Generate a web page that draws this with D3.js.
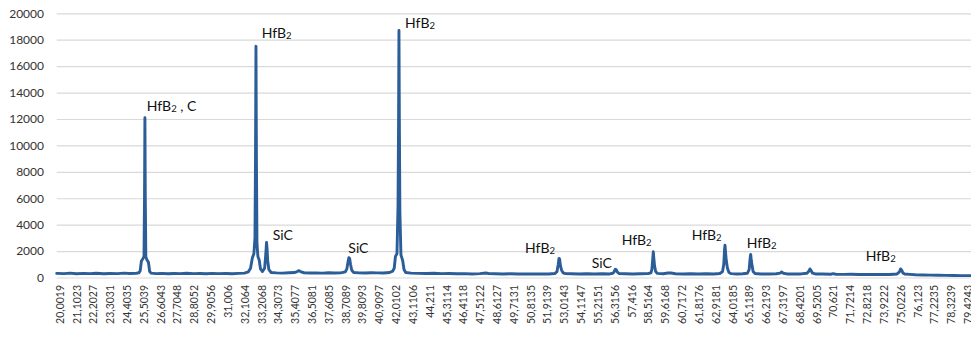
<!DOCTYPE html>
<html>
<head>
<meta charset="utf-8">
<script src="https://cdn.jsdelivr.net/npm/d3@7/dist/d3.min.js"></script>
<style>
  html, body { margin: 0; padding: 0; background: #ffffff; }
  svg { display: block; }
</style>
</head>
<body>
<svg id="chart" width="971" height="338"></svg>
<script>
// Diffraction angle 2θ (degrees)
const twoTheta = [
  19.82, 20.3, 20.7, 21.1, 21.6, 22.0, 22.4, 22.9, 23.3, 23.8, 24.2, 24.6, 25.0, 25.2,
  25.28, 25.36, 25.45, 25.53, 25.565, 25.59, 25.615, 25.65, 25.72, 25.82, 25.90, 26.0,
  26.3, 26.7, 27.1, 27.5, 27.9, 28.3, 28.8, 29.2, 29.6, 30.0, 30.4, 30.9, 31.3, 31.7, 32.1, 32.35,
  32.50, 32.62, 32.72, 32.79, 32.825, 32.855, 32.885, 32.92, 32.98, 33.07, 33.15, 33.28,
  33.42, 33.50, 33.545, 33.58, 33.62, 33.70, 33.85,
  34.2, 34.6, 35.0, 35.4, 35.55, 35.67, 35.8, 36.0, 36.4, 36.8, 37.2, 37.6, 38.0, 38.4, 38.7,
  38.80, 38.88, 38.93, 38.98, 39.04, 39.12, 39.25,
  39.6, 40.0, 40.4, 40.8, 41.2, 41.6, 41.8,
  41.90, 41.98, 42.08, 42.15, 42.185, 42.21, 42.235, 42.27, 42.34, 42.45, 42.54, 42.65,
  43.0, 43.5, 44.0, 44.5, 45.0, 45.5, 46.0, 46.5, 47.0, 47.5, 47.9, 48.1, 48.5, 49.0, 49.5,
  50.0, 50.5, 51.0, 51.5, 52.0, 52.4,
  52.55, 52.63, 52.68, 52.72, 52.77, 52.85, 52.95, 53.1,
  53.5, 54.0, 54.5, 55.0, 55.5, 56.0, 56.2,
  56.28, 56.36, 56.42, 56.50, 56.62,
  57.0, 57.5, 58.0, 58.5, 58.7,
  58.76, 58.82, 58.85, 58.88, 58.93, 59.00, 59.12,
  59.5, 59.8, 60.0, 60.3, 60.8, 61.3, 61.8, 62.3, 62.8, 63.2, 63.38,
  63.46, 63.51, 63.54, 63.57, 63.62, 63.70, 63.80, 63.95,
  64.3, 64.7, 65.0,
  65.12, 65.18, 65.22, 65.26, 65.31, 65.38, 65.50,
  65.9, 66.4, 66.9, 67.15, 67.25, 67.35, 67.6, 68.0, 68.5, 68.9,
  69.02, 69.10, 69.17, 69.27, 69.45,
  69.9, 70.5, 70.6, 70.8, 71.3, 71.8, 72.3, 72.8, 73.3, 73.8, 74.3, 74.8,
  74.95, 75.03, 75.10, 75.18, 75.30,
  75.6, 76.0, 76.5, 77.0, 77.5, 78.0, 78.5, 79.0, 79.5, 79.65
];

// Measured intensity (counts)
const intensity = [
  310, 290, 330, 280, 310, 290, 320, 280, 300, 290, 330, 300, 310, 360,
  500, 1250, 1400, 1600, 6200, 12100, 6000, 1550, 1350, 1150, 450, 330,
  290, 310, 280, 300, 290, 320, 290, 300, 280, 310, 290, 300, 280, 310, 330, 420,
  700, 1500, 1800, 3000, 9000, 17500, 9000, 2600, 1600, 1300, 650, 450,
  700, 1800, 2650, 2200, 1300, 600, 380,
  350, 330, 360, 380, 450, 520, 430, 360, 340, 350, 330, 360, 340, 350, 420,
  650, 1200, 1500, 1450, 1000, 550, 380,
  350, 340, 360, 350, 340, 380, 480,
  700, 1600, 1800, 5500, 12000, 18700, 12000, 5000, 1700, 1300, 600, 380,
  330, 310, 300, 320, 290, 300, 280, 290, 270, 290, 340, 290, 280, 270, 280,
  260, 270, 260, 270, 260, 300,
  450, 1000, 1450, 1400, 900, 550, 350, 290,
  280, 270, 280, 260, 280, 270, 320,
  420, 620, 600, 400, 290,
  280, 270, 280, 290, 360,
  650, 1500, 1950, 1500, 900, 450, 310,
  280, 340, 340, 280, 270, 280, 260, 280, 270, 300, 450,
  1000, 2100, 2450, 2000, 1300, 700, 380, 290,
  270, 280, 320,
  600, 1400, 1750, 1300, 900, 450, 300,
  270, 260, 280, 330, 420, 320, 270, 260, 270, 320,
  470, 650, 520, 330, 270,
  260, 250, 290, 250, 240, 250, 230, 240, 230, 240, 230, 270,
  420, 650, 560, 340, 260,
  240, 210, 190, 180, 170, 160, 150, 145, 140, 140
];

// Category labels shown along the 2θ axis
const tickLabels = [
  "20,0019", "21,1023", "22,2027", "23,3031", "24,4035", "25,5039", "26,6043", "27,7048",
  "28,8052", "29,9056", "31,006", "32,1064", "33,2068", "34,3073", "35,4077", "36,5081",
  "37,6085", "38,7089", "39,8093", "40,9097", "42,0102", "43,1106", "44,211", "45,3114",
  "46,4118", "47,5122", "48,6127", "49,7131", "50,8135", "51,9139", "53,0143", "54,1147",
  "55,2151", "56,3156", "57,416", "58,5164", "59,6168", "60,7172", "61,8176", "62,9181",
  "64,0185", "65,1189", "66,2193", "67,3197", "68,4201", "69,5205", "70,621", "71,7214",
  "72,8218", "73,9222", "75,0226", "76,123", "77,2235", "78,3239", "79,4243"
];

const yTicks = [0, 2000, 4000, 6000, 8000, 10000, 12000, 14000, 16000, 18000, 20000];

// Phase identification labels, anchored at (2θ, counts)
const phaseNames = ["HfB|2| , C", "HfB|2|", "SiC", "SiC", "HfB|2|", "HfB|2|", "SiC", "HfB|2|", "HfB|2|", "HfB|2|", "HfB|2|"];
const phaseAt2Theta = [25.71, 33.23, 33.95, 38.90, 42.61, 50.46, 54.82, 56.78, 61.36, 64.96, 72.75];
const phaseAtCounts = [12980, 18490, 3220, 2210, 19240, 2210, 1120, 2840, 3220, 2630, 1630];

const svg = d3.select("#chart");
const W = 971, H = 338;
const plotLeft = 56.7, plotRight = 971;

svg.append("rect").attr("width", W).attr("height", H).attr("fill", "#ffffff");

const x = d3.scaleLinear().domain([20.0019, 79.4243]).range([59.5, 967.8]);
const y = d3.scaleLinear().domain([0, 20000]).range([277.5, 13.3]);

// horizontal gridlines
const grid = svg.append("g")
  .attr("transform", `translate(${plotLeft},0)`)
  .call(d3.axisLeft(y).tickValues(yTicks).tickSize(-(plotRight - plotLeft)).tickFormat(""));
grid.select(".domain").remove();
grid.selectAll(".tick line").attr("stroke", "#d9d9d9").attr("stroke-width", 1.2);

// value axis labels
const yAxis = svg.append("g")
  .attr("transform", "translate(44,0)")
  .call(d3.axisLeft(y).tickValues(yTicks).tickSize(0).tickPadding(0).tickFormat(d3.format("d")));
yAxis.select(".domain").remove();
yAxis.selectAll("text")
  .attr("font-family", "Lato, 'Open Sans', sans-serif")
  .attr("font-size", "12px")
  .attr("fill", "#333333");

// 2θ axis labels, rotated
const tickVals = tickLabels.map(s => +s.replace(",", "."));
const xAxis = svg.append("g")
  .attr("transform", "translate(0,284)")
  .call(d3.axisBottom(x).tickValues(tickVals).tickSize(0).tickFormat((d, i) => tickLabels[i]));
xAxis.select(".domain").remove();
xAxis.selectAll("text")
  .attr("transform", "rotate(-90)")
  .attr("text-anchor", "end")
  .attr("x", -1)
  .attr("y", 0)
  .attr("dy", "0.35em")
  .attr("font-family", "Lato, 'Open Sans', sans-serif")
  .attr("font-size", "10.5px")
  .attr("fill", "#333333");

// diffraction pattern
const pts = twoTheta.map((t, i) => [t, intensity[i]]);
svg.append("path")
  .datum(pts)
  .attr("fill", "none")
  .attr("stroke", "#2b5d98")
  .attr("stroke-width", 2.9)
  .attr("stroke-linejoin", "round")
  .attr("stroke-linecap", "round")
  .attr("d", d3.line().x(d => x(d[0])).y(d => y(d[1])));

// phase labels with subscript
phaseNames.forEach((name, i) => {
  const parts = name.split("|");
  const t = svg.append("text")
    .attr("x", x(phaseAt2Theta[i]))
    .attr("y", y(phaseAtCounts[i]))
    .attr("dy", "0.35em")
    .attr("font-family", "Lato, 'Open Sans', sans-serif")
    .attr("font-size", "14px")
    .attr("fill", "#111111");
  t.append("tspan").text(parts[0]);
  if (parts.length > 1) {
    t.append("tspan").attr("font-size", "9.5px").attr("dy", 1).text(parts[1]);
    if (parts[2]) t.append("tspan").attr("dy", -1).text(parts[2]);
  }
});
</script>
</body>
</html>
